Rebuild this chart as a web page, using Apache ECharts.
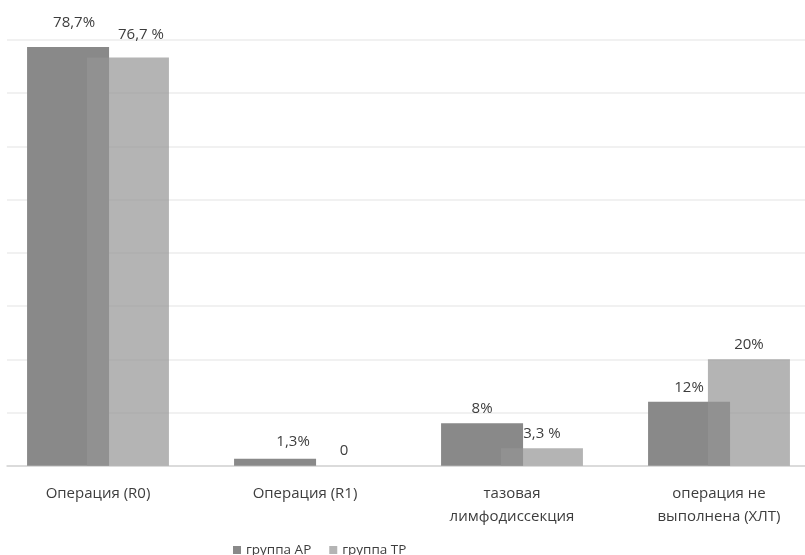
<!DOCTYPE html>
<html>
<head>
<meta charset="utf-8">
<script src="https://cdn.jsdelivr.net/npm/echarts@6/dist/echarts.min.js"></script>
<style>html,body{margin:0;padding:0;background:#fff}#c{width:805px;height:555px}</style>
</head>
<body>
<div id="c"></div>
<script>
const categories = ['Операция (R0)', 'Операция (R1)', 'тазовая\nлимфодиссекция', 'операция не\nвыполнена (ХЛТ)'];
const seriesNames = ['группа АР', 'группа ТР'];
const valuesAP = [78.7, 1.3, 8, 12];
const valuesTP = [76.7, 0, 3.3, 20];
const labelsAP = ['78,7%', '1,3%', '8%', '12%'];
const labelsTP = ['76,7 %', '0', '3,3 %', '20%'];
const yMin = 0, yMax = 80, yStep = 10;

// label nudges (styling only)
const nudgeAP = [[6, -10], [18, -3], [0, 0], [0, 0]];
const nudgeTP = [[13, -8], [9, 0], [0, 0], [0, 0]];

const font = '"Open Sans", "DejaVu Sans", sans-serif';
const textColor = '#3d3d3d';

function build(vals, labels, nudge) {
  return vals.map((v, i) => ({
    value: v,
    label: { formatter: labels[i], offset: nudge[i] }
  }));
}

const chart = echarts.init(document.getElementById('c'), null, { renderer: 'canvas' });
chart.setOption({
  animation: false,
  backgroundColor: '#fff',
  grid: [
    { left: -5.5, width: 828, top: 40, bottom: 89.3, containLabel: false, outerBoundsMode: 'none' },
    { left: 7, right: 0, top: 40, bottom: 89.3, containLabel: false, outerBoundsMode: 'none' }
  ],
  xAxis: [
    {
      type: 'category', gridIndex: 0, data: categories,
      axisLine: { show: false }, axisTick: { show: false },
      axisLabel: { color: textColor, fontFamily: font, fontSize: 15, lineHeight: 23, margin: 17, interval: 0 }
    },
    {
      type: 'category', gridIndex: 1, data: categories,
      axisLine: { show: true, lineStyle: { color: '#d4d4d4', width: 1.5 } },
      axisTick: { show: false }, axisLabel: { show: false }
    }
  ],
  yAxis: [
    {
      type: 'value', gridIndex: 0, min: yMin, max: yMax, interval: yStep,
      axisLine: { show: false }, axisTick: { show: false }, axisLabel: { show: false },
      splitLine: { show: false }
    },
    {
      type: 'value', gridIndex: 1, min: yMin, max: yMax, interval: yStep,
      axisLine: { show: false }, axisTick: { show: false }, axisLabel: { show: false },
      splitLine: { show: true, lineStyle: { color: '#ececec', width: 1.5 } }
    }
  ],
  legend: {
    left: 228, top: 538,
    itemWidth: 8, itemHeight: 8, itemGap: 18,
    icon: 'rect',
    textStyle: { color: textColor, fontFamily: font, fontSize: 13.5 },
    data: seriesNames
  },
  series: [
    {
      name: seriesNames[0], type: 'bar', xAxisIndex: 0, yAxisIndex: 0,
      barWidth: 82, barGap: '-27%',
      itemStyle: { color: '#898989' },
      label: { show: true, position: 'top', distance: 7, color: textColor, fontFamily: font, fontSize: 15 },
      data: build(valuesAP, labelsAP, nudgeAP)
    },
    {
      name: seriesNames[1], type: 'bar', xAxisIndex: 0, yAxisIndex: 0,
      barWidth: 82, barGap: '-27%',
      itemStyle: { color: 'rgba(148,148,148,0.7)' },
      label: { show: true, position: 'top', distance: 7, color: textColor, fontFamily: font, fontSize: 15 },
      data: build(valuesTP, labelsTP, nudgeTP)
    }
  ]
});
</script>
</body>
</html>
